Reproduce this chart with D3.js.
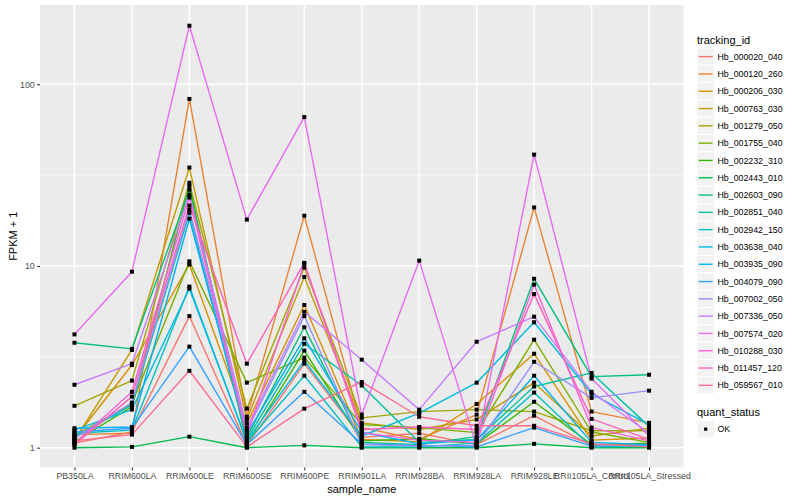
<!DOCTYPE html>
<html>
<head>
<meta charset="utf-8">
<script src="https://cdn.jsdelivr.net/npm/d3@7"></script>
<style>
  html, body { margin: 0; padding: 0; background: #ffffff; }
  svg { display: block; font-family: "Liberation Sans", Arial, Helvetica, sans-serif; }
</style>
</head>
<body>
<svg id="chart" width="800" height="500"></svg>
<script>
// ---- data ----
const categories = ["PB350LA", "RRIM600LA", "RRIM600LE", "RRIM600SE", "RRIM600PE", "RRIM901LA",
  "RRIM928BA", "RRIM928LA", "RRIM928LE", "RRII105LA_Control", "RRII105LA_Stressed"];

const trackingIds = ["Hb_000020_040", "Hb_000120_260", "Hb_000206_030", "Hb_000763_030", "Hb_001279_050",
  "Hb_001755_040", "Hb_002232_310", "Hb_002443_010", "Hb_002603_090", "Hb_002851_040",
  "Hb_002942_150", "Hb_003638_040", "Hb_003935_090", "Hb_004079_090", "Hb_007002_050",
  "Hb_007336_050", "Hb_007574_020", "Hb_010288_030", "Hb_011457_120", "Hb_059567_010"];

const yTicks = [1, 10, 100];
const yMinorTicks = [Math.sqrt(10), Math.sqrt(1000)];
const quantStatus = ["OK"];

// FPKM + 1 per sample (order of categories)
const Hb_000020_040 = [1.06, 1.22, 5.3, 1.03, 2.9, 1.14, 1.2, 1.04, 1.50, 1.03, 1.05];
const Hb_000120_260 = [1.18, 1.2, 83, 1.48, 18.9, 1.29, 1.11, 1.52, 21, 1.58, 1.37];
const Hb_000206_030 = [1.12, 2.85, 10.2, 1.36, 6.1, 1.11, 1.08, 1.74, 3.29, 1.1, 1.13];
const Hb_000763_030 = [1.1, 3.45, 34.8, 1.43, 8.7, 1.37, 1.26, 1.43, 2.28, 1.16, 1.28];
const Hb_001279_050 = [1.70, 2.34, 28.7, 1.64, 9.8, 1.46, 1.58, 1.62, 1.58, 1.24, 1.24];
const Hb_001755_040 = [1.16, 1.75, 10.6, 2.28, 3.13, 1.34, 1.29, 1.21, 3.93, 1.22, 1.07];
const Hb_002232_310 = [1.08, 1.68, 27.7, 1.05, 3.42, 1.09, 1.12, 1.05, 1.79, 1.04, 1.06];
const Hb_002443_010 = [1.0, 1.01, 1.15, 1.0, 1.03, 1.0, 1.0, 1.0, 1.05, 1.0, 1.0];
const Hb_002603_090 = [3.78, 3.5, 26.3, 1.14, 4.6, 1.07, 1.04, 1.15, 8.5, 2.46, 2.52];
const Hb_002851_040 = [1.14, 1.72, 19.6, 1.11, 3.73, 2.2, 1.07, 1.11, 2.17, 2.58, 1.31];
const Hb_002942_150 = [1.2, 1.25, 7.7, 1.07, 2.49, 1.01, 1.01, 1.06, 2.01, 1.01, 1.02];
const Hb_003638_040 = [1.25, 1.62, 7.5, 1.09, 3.01, 1.16, 1.55, 2.28, 4.9, 1.98, 1.34];
const Hb_003935_090 = [1.28, 1.3, 18.2, 1.19, 4.0, 1.22, 1.05, 1.1, 2.49, 1.07, 1.04];
const Hb_004079_090 = [1.22, 1.28, 3.6, 1.04, 2.03, 1.05, 1.03, 1.01, 1.29, 1.02, 1.03];
const Hb_007002_050 = [1.13, 1.77, 20.4, 1.24, 5.3, 1.04, 1.02, 1.03, 2.97, 1.88, 2.06];
const Hb_007336_050 = [2.22, 2.9, 24.7, 1.29, 5.6, 3.05, 1.62, 3.83, 5.26, 2.03, 1.2];
const Hb_007574_020 = [4.2, 9.3, 210, 18, 66, 1.52, 10.7, 1.02, 41, 2.4, 1.16];
const Hb_010288_030 = [1.05, 2.03, 23.8, 1.16, 10.3, 1.21, 1.1, 1.07, 7.9, 1.29, 1.09];
const Hb_011457_120 = [1.04, 1.91, 21.5, 2.9, 10.4, 1.26, 1.3, 1.26, 7.0, 1.44, 1.11];
const Hb_059567_010 = [1.09, 1.18, 2.65, 1.01, 1.64, 2.3, 1.48, 1.32, 1.32, 1.05, 1.01];

const seriesValues = [Hb_000020_040, Hb_000120_260, Hb_000206_030, Hb_000763_030, Hb_001279_050,
  Hb_001755_040, Hb_002232_310, Hb_002443_010, Hb_002603_090, Hb_002851_040,
  Hb_002942_150, Hb_003638_040, Hb_003935_090, Hb_004079_090, Hb_007002_050,
  Hb_007336_050, Hb_007574_020, Hb_010288_030, Hb_011457_120, Hb_059567_010];

const palette = ["#F8766D", "#EA8331", "#D89000", "#C09B00", "#A3A500", "#7CAE00", "#39B600", "#00BB4E",
  "#00BF7D", "#00C1A3", "#00BFC4", "#00BAE0", "#00B0F6", "#35A2FF", "#9590FF", "#C77CFF",
  "#E76BF3", "#FA62DB", "#FF62BC", "#FF6C91"];

// ---- layout ----
const svg = d3.select("#chart");
const panel = { left: 40, right: 683.5, top: 5, bottom: 467.5 };

const x = d3.scalePoint().domain(categories)
  .range([panel.left, panel.right]).padding(0.6);
const y = d3.scaleLog().domain([0.778, 273]).range([panel.bottom, panel.top]);
const color = d3.scaleOrdinal().domain(trackingIds).range(palette);

// panel background
svg.append("rect")
  .attr("x", panel.left).attr("y", panel.top)
  .attr("width", panel.right - panel.left).attr("height", panel.bottom - panel.top)
  .attr("fill", "#EBEBEB");

const grid = svg.append("g");
yMinorTicks.forEach(t => {
  grid.append("line").attr("x1", panel.left).attr("x2", panel.right)
    .attr("y1", y(t)).attr("y2", y(t)).attr("stroke", "#fff").attr("stroke-width", 0.7);
});
yTicks.forEach(t => {
  grid.append("line").attr("x1", panel.left).attr("x2", panel.right)
    .attr("y1", y(t)).attr("y2", y(t)).attr("stroke", "#fff").attr("stroke-width", 1.4);
});
categories.forEach(c => {
  grid.append("line").attr("x1", x(c)).attr("x2", x(c))
    .attr("y1", panel.top).attr("y2", panel.bottom).attr("stroke", "#fff").attr("stroke-width", 1.4);
});

// lines
const line = d3.line().x((d, i) => x(categories[i])).y(d => y(d));
const lines = svg.append("g");
seriesValues.forEach((vals, k) => {
  lines.append("path").datum(vals)
    .attr("d", line)
    .attr("fill", "none")
    .attr("stroke", color(trackingIds[k]))
    .attr("stroke-width", 1.4)
    .attr("stroke-linejoin", "round");
});

// points
const pts = svg.append("g");
seriesValues.forEach(vals => {
  vals.forEach((v, i) => {
    pts.append("rect")
      .attr("x", x(categories[i]) - 2).attr("y", y(v) - 2)
      .attr("width", 4).attr("height", 4)
      .attr("fill", "#000");
  });
});

// axes
const xAxis = d3.axisBottom(x).tickSize(2.75).tickPadding(2.5);
const gx = svg.append("g").attr("transform", `translate(0,${panel.bottom})`).call(xAxis);
gx.select(".domain").remove();
gx.selectAll(".tick line").attr("stroke", "#333333").attr("stroke-width", 1.1);
gx.selectAll(".tick text").attr("fill", "#4D4D4D").attr("font-size", 8.8)
  .attr("font-family", "Liberation Sans, Arial, sans-serif");

const yAxis = d3.axisLeft(y).tickValues(yTicks).tickFormat(d3.format("d")).tickSize(2.75).tickPadding(2.5);
const gy = svg.append("g").attr("transform", `translate(${panel.left},0)`).call(yAxis);
gy.select(".domain").remove();
gy.selectAll(".tick line").attr("stroke", "#333333").attr("stroke-width", 1.1);
gy.selectAll(".tick text").attr("fill", "#4D4D4D").attr("font-size", 8.8)
  .attr("font-family", "Liberation Sans, Arial, sans-serif");

// axis titles
svg.append("text")
  .attr("x", (panel.left + panel.right) / 2).attr("y", 492.5)
  .attr("text-anchor", "middle").attr("font-size", 11).attr("fill", "#000")
  .text("sample_name");
svg.append("text")
  .attr("transform", `translate(16.5,${(panel.top + panel.bottom) / 2}) rotate(-90)`)
  .attr("text-anchor", "middle").attr("font-size", 11).attr("fill", "#000")
  .text("FPKM + 1");

// legend: tracking_id
const leg = svg.append("g");
const legX = 697, keyH = 17.3, firstKeyTop = 48;
leg.append("text").attr("x", legX).attr("y", 43.5)
  .attr("font-size", 11).attr("fill", "#000").text("tracking_id");
trackingIds.forEach((id, k) => {
  const top = firstKeyTop + k * keyH;
  leg.append("rect").attr("x", legX).attr("y", top).attr("width", 17.3).attr("height", keyH)
    .attr("fill", "#F2F2F2").attr("stroke", "#fff").attr("stroke-width", 1);
  leg.append("line").attr("x1", legX + 1.7).attr("x2", legX + 15.6)
    .attr("y1", top + keyH / 2).attr("y2", top + keyH / 2)
    .attr("stroke", color(id)).attr("stroke-width", 1.4);
  leg.append("text").attr("x", legX + 20.5).attr("y", top + keyH / 2)
    .attr("dy", "0.35em").attr("font-size", 8.8).attr("fill", "#000").text(id);
});

// legend: quant_status
const qTitleY = 416;
leg.append("text").attr("x", legX).attr("y", qTitleY)
  .attr("font-size", 11).attr("fill", "#000").text("quant_status");
quantStatus.forEach((q, k) => {
  const top = 420.5 + k * keyH;
  leg.append("rect").attr("x", legX).attr("y", top).attr("width", 17.3).attr("height", keyH)
    .attr("fill", "#F2F2F2").attr("stroke", "#fff").attr("stroke-width", 1);
  leg.append("rect").attr("x", legX + 8.65 - 1.6).attr("y", top + keyH / 2 - 1.6)
    .attr("width", 3.2).attr("height", 3.2).attr("fill", "#000");
  leg.append("text").attr("x", legX + 20.5).attr("y", top + keyH / 2)
    .attr("dy", "0.35em").attr("font-size", 8.8).attr("fill", "#000").text(q);
});
</script>
</body>
</html>
